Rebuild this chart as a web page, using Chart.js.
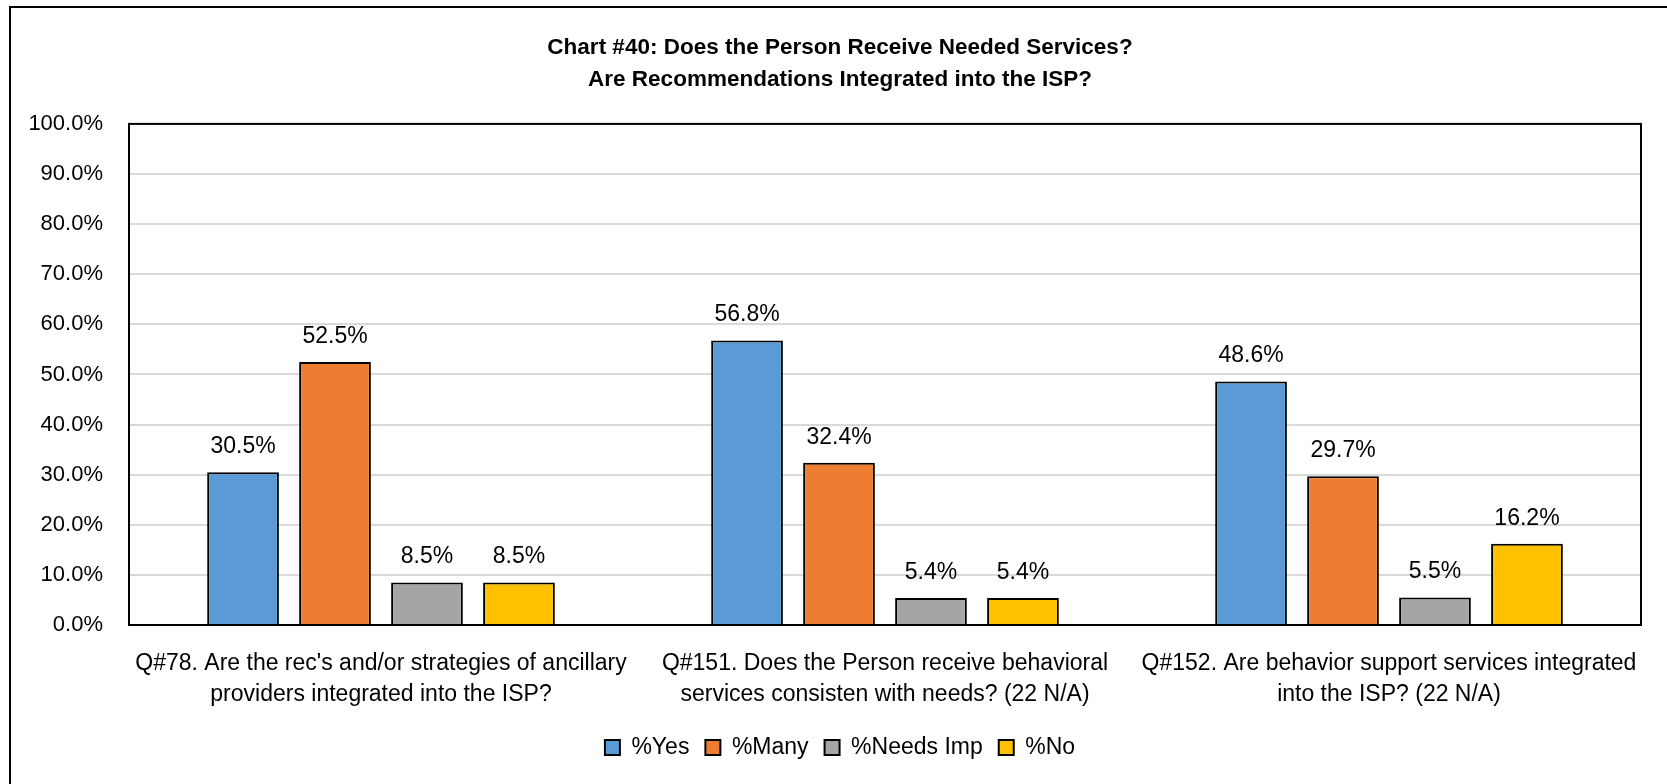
<!DOCTYPE html>
<html>
<head>
<meta charset="utf-8">
<script src="https://cdn.jsdelivr.net/npm/chart.js@4.4.1/dist/chart.umd.min.js"></script>
<style>
  html, body { margin: 0; padding: 0; background: #ffffff; }
  #wrap { width: 1667px; height: 784px; position: relative; }
</style>
</head>
<body>
<div id="wrap"><canvas id="c" width="1667" height="784"></canvas></div>
<script>
const categories = [
  ["Q#78. Are the rec's and/or strategies of ancillary", "providers integrated into the ISP?"],
  ["Q#151. Does the Person receive behavioral", "services consisten with needs? (22 N/A)"],
  ["Q#152. Are behavior support services integrated", "into the ISP? (22 N/A)"]
];
const seriesNames = ["%Yes", "%Many", "%Needs Imp", "%No"];
const yesValues = [30.5, 56.8, 48.6];
const manyValues = [52.5, 32.4, 29.7];
const needsImpValues = [8.5, 5.4, 5.5];
const noValues = [8.5, 5.4, 16.2];
const seriesColors = ["#5B9BD5", "#ED7D31", "#A5A5A5", "#FFC000"];
const titleLines = ["Chart #40: Does the Person Receive Needed Services?", "Are Recommendations Integrated into the ISP?"];
const yTickValues = [0, 10, 20, 30, 40, 50, 60, 70, 80, 90, 100];

const FONT = "'Liberation Sans', Arial, sans-serif";

const frame = {
  id: 'frame',
  beforeDraw(chart) {
    const ctx = chart.ctx;
    ctx.save();
    ctx.fillStyle = '#ffffff';
    ctx.fillRect(0, 0, chart.width, chart.height);
    ctx.strokeStyle = '#000000';
    ctx.lineWidth = 2;
    ctx.beginPath();
    ctx.moveTo(10, chart.height + 5);
    ctx.lineTo(10, 7);
    ctx.lineTo(chart.width + 5, 7);
    ctx.stroke();
    ctx.restore();
  },
  afterDatasetsDraw(chart) {
    const ctx = chart.ctx;
    const a = chart.chartArea;
    ctx.save();
    ctx.strokeStyle = '#000000';
    ctx.lineWidth = 2;
    ctx.strokeRect(a.left, a.top, a.right - a.left, a.bottom - a.top);
    ctx.font = "23px " + FONT;
    ctx.fillStyle = '#000000';
    ctx.textAlign = 'center';
    ctx.textBaseline = 'alphabetic';
    chart.data.datasets.forEach((ds, i) => {
      const meta = chart.getDatasetMeta(i);
      meta.data.forEach((bar, j) => {
        ctx.fillText(ds.data[j].toFixed(1) + '%', bar.x, bar.y - 19);
      });
    });
    ctx.restore();
  }
};

const valueLists = [yesValues, manyValues, needsImpValues, noValues];

new Chart(document.getElementById('c'), {
  type: 'bar',
  data: {
    labels: categories,
    datasets: seriesNames.map((n, i) => ({
      label: n,
      data: valueLists[i],
      backgroundColor: seriesColors[i],
      borderColor: '#000000',
      borderWidth: 2,
      barPercentage: 0.78,
      categoryPercentage: 0.73
    }))
  },
  options: {
    responsive: false,
    animation: false,
    devicePixelRatio: 1,
    layout: { padding: { left: 16, right: 3, top: 6, bottom: 15 } },
    plugins: {
      title: {
        display: true,
        text: titleLines,
        color: '#000000',
        font: { family: FONT, size: 22.5, weight: 'bold', lineHeight: 1.42 },
        padding: { top: 26, bottom: 28 }
      },
      legend: {
        position: 'bottom',
        labels: {
          color: '#000000',
          font: { family: FONT, size: 23 },
          boxWidth: 15,
          boxHeight: 15,
          padding: 16,
          generateLabels(chart) {
            return chart.data.datasets.map((ds, i) => ({
              text: ds.label,
              fillStyle: ds.backgroundColor,
              strokeStyle: '#000000',
              lineWidth: 2,
              datasetIndex: i,
              fontColor: '#000000'
            }));
          }
        }
      },
      tooltip: { enabled: false }
    },
    scales: {
      x: {
        grid: { display: false, drawTicks: false },
        border: { display: true, color: '#000000', width: 2 },
        ticks: {
          color: '#000000',
          font: { family: FONT, size: 23, lineHeight: 1.35 },
          padding: 23,
          maxRotation: 0,
          autoSkip: false
        },
        afterFit(scale) { scale.height = 95; scale.paddingRight = 26; scale.paddingLeft = 0; }
      },
      y: {
        min: 0,
        max: 100,
        afterBuildTicks(scale) { scale.ticks = yTickValues.map(v => ({ value: v })); },
        grid: { color: '#D9D9D9', lineWidth: 2, drawTicks: false },
        border: { display: true, color: '#000000', width: 2 },
        ticks: {
          color: '#000000',
          font: { family: FONT, size: 22 },
          padding: 26,
          callback: v => Number(v).toFixed(1) + '%'
        },
        afterFit(scale) { scale.width = 113; }
      }
    }
  },
  plugins: [frame]
});
</script>
</body>
</html>
